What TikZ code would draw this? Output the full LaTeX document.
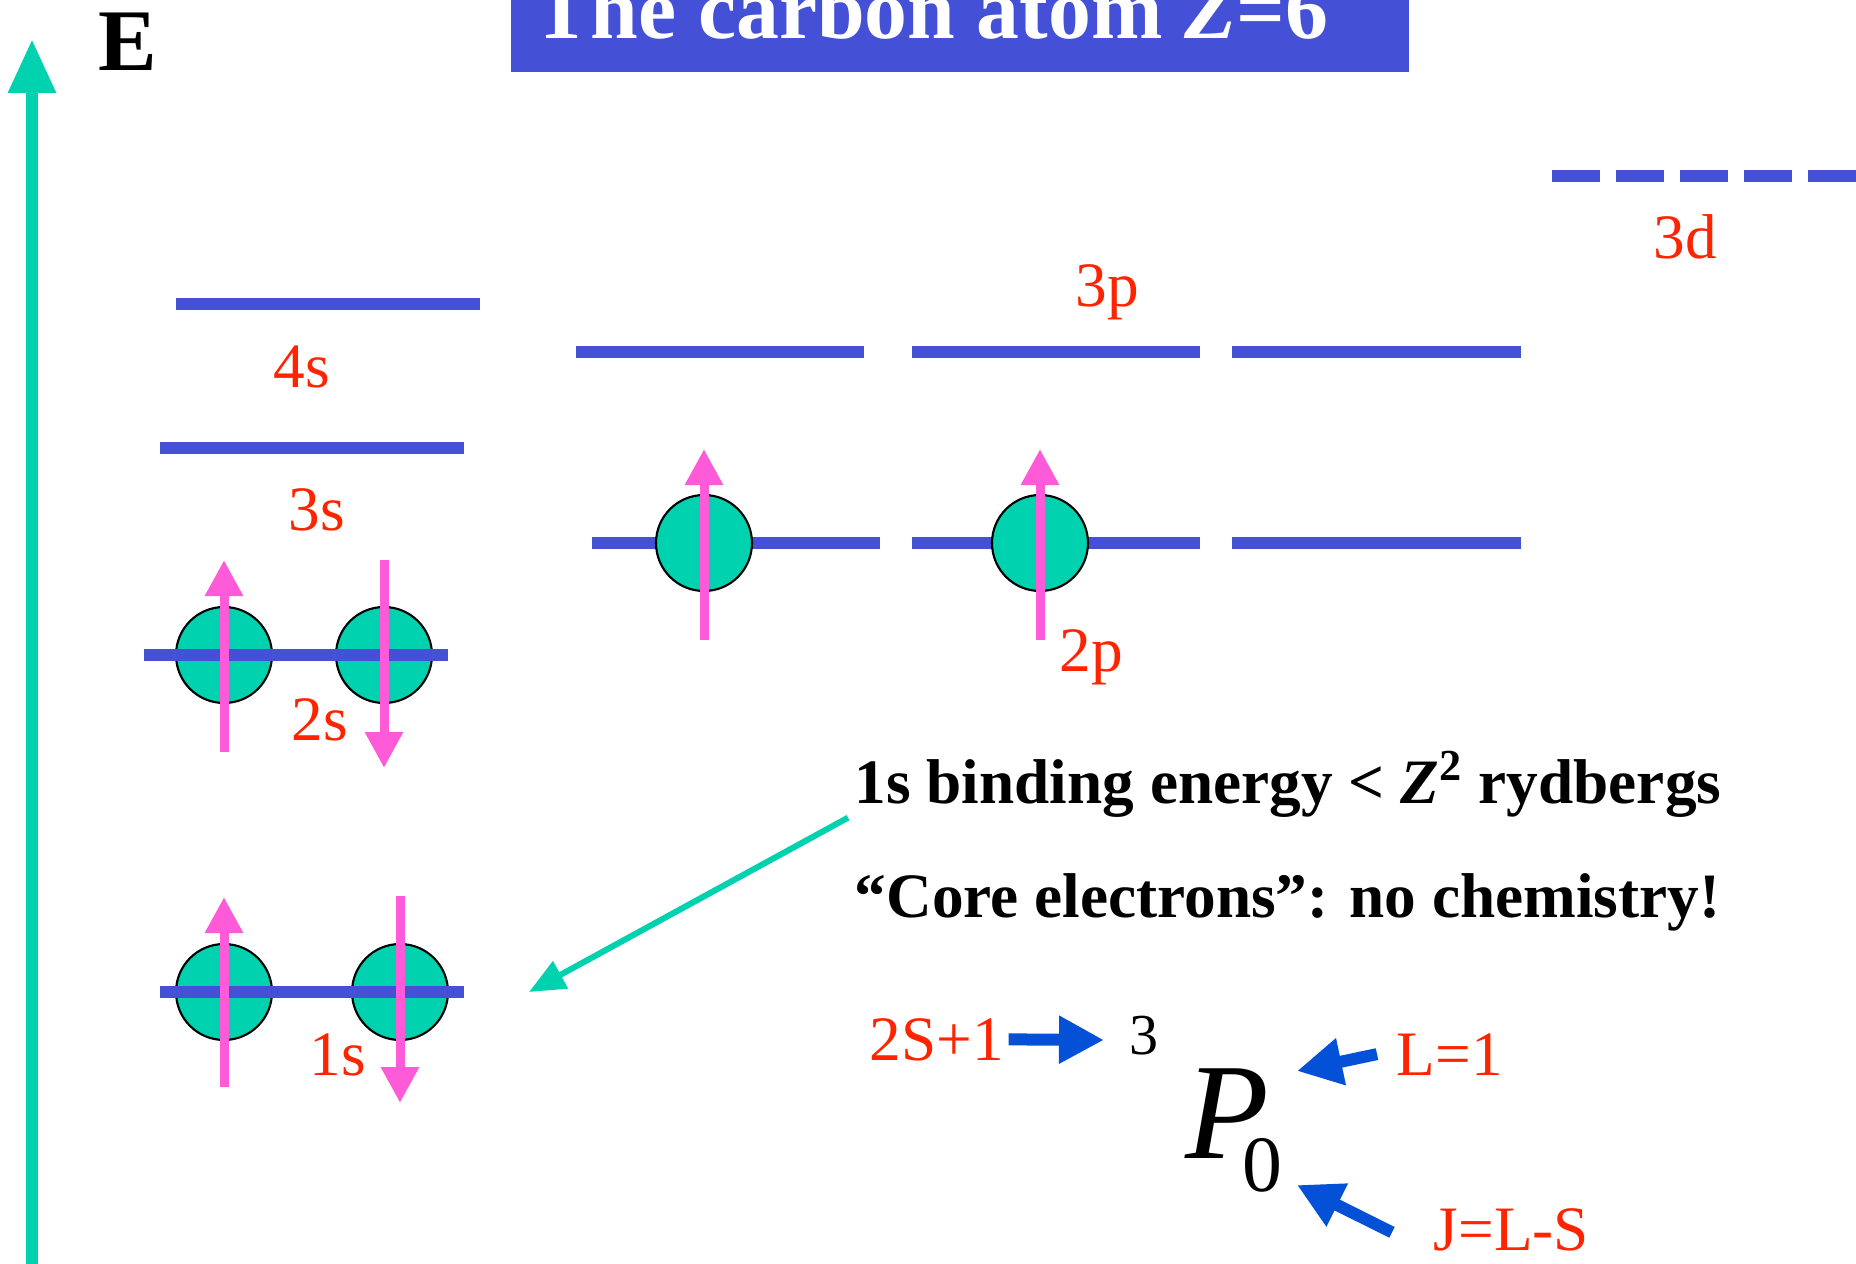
\documentclass[tikz,border=0pt]{standalone}
\usepackage{fontspec}
\setmainfont{Liberation Serif}
\usepackage{xcolor}
\usetikzlibrary{arrows.meta}

\definecolor{levelblue}{RGB}{68,80,214}
\definecolor{elteal}{RGB}{0,209,174}
\definecolor{spinpink}{RGB}{255,90,216}
\definecolor{labelred}{RGB}{255,36,0}
\definecolor{termblue}{RGB}{4,80,214}

\begin{document}
\begin{tikzpicture}[
    level/.style={levelblue, line width=0.12cm},
    electron/.style={fill=elteal, draw=black, line width=0.6pt},
    spin/.style={spinpink, line width=0.09cm, -{Triangle[length=0.36cm, width=0.36cm]}},
    orb/.style={labelred, font=\fontsize{18}{20}\selectfont, inner sep=0pt, anchor=base},
    remark/.style={font=\fontsize{18}{20}\selectfont\bfseries, inner sep=0pt, anchor=base west},
    term/.style={termblue, line width=0.12cm, -{Triangle[length=0.45cm, width=0.45cm]}},
    termtxt/.style={inner sep=0pt, anchor=base west},
]
    \useasboundingbox (0, 0) rectangle (18.56, 12.63);
    \clip (0, 0) rectangle (18.56, 12.63);

    % Energy axis
    \draw [elteal, line width=0.12cm, -{Triangle[length=0.54cm, width=0.45cm]}] (0.32, -0.1) -- (0.32, 12.24);
    \node (E) [font=\fontsize{25}{28}\selectfont\bfseries, inner sep=0pt, anchor=base west] at (0.98, 11.93) {E};

    % Title
    \fill [levelblue] (5.11, 11.91) rectangle (14.09, 13.0);
    \node (title) [white, font=\fontsize{24.4}{28}\selectfont\bfseries, inner sep=0pt, anchor=base west] at (5.33, 12.25) {The carbon atom \textit{Z}=6};

    % s levels
    \draw [level] (1.76, 9.59) -- (4.80, 9.59);
    \node (lab4s) [orb] at (3.02, 8.76) {4s};
    \draw [level] (1.60, 8.15) -- (4.64, 8.15);
    \node (lab3s) [orb] at (3.17, 7.33) {3s};

    % 2s
    \draw [electron] (2.24, 6.08) circle (0.48);
    \draw [electron] (3.84, 6.08) circle (0.48);
    \draw [level] (1.44, 6.08) -- (4.48, 6.08);
    \draw [spin] (2.24, 5.11) -- (2.24, 7.03);
    \draw [spin] (3.84, 7.03) -- (3.84, 4.95);
    \node (lab2s) [orb] at (3.195, 5.23) {2s};

    % 1s
    \draw [electron] (2.24, 2.71) circle (0.48);
    \draw [electron] (4.00, 2.71) circle (0.48);
    \draw [level] (1.60, 2.71) -- (4.64, 2.71);
    \draw [spin] (2.24, 1.76) -- (2.24, 3.66);
    \draw [spin] (4.00, 3.67) -- (4.00, 1.60);
    \node (lab1s) [orb] at (3.375, 1.88) {1s};

    % p levels
    \foreach \xa/\xb in {5.76/8.64, 9.12/12.00, 12.32/15.21}
        \draw [level] (\xa, 9.11) -- (\xb, 9.11);
    \node (lab3p) [orb] at (11.075, 9.57) {3p};
    \foreach \xa/\xb in {5.92/8.80, 9.12/12.00, 12.32/15.21}
        \draw [level] (\xa, 7.20) -- (\xb, 7.20);
    \foreach \x in {7.04, 10.40} {
        \draw [electron] (\x, 7.20) circle (0.48);
        \draw [spin] (\x, 6.23) -- (\x, 8.14);
    }
    \node (lab2p) [orb] at (10.91, 5.92) {2p};

    % 3d
    \draw [level, dash pattern=on 0.48cm off 0.16cm] (15.52, 10.87) -- (18.7, 10.87);
    \node (lab3d) [orb] at (16.855, 10.05) {3d};

    % Remarks
    \node (bind) [remark] at (8.54, 4.60) {1s binding energy < \textit{Z}\textsuperscript{2} rydbergs};
    \node (core) [remark] at (8.54, 3.46) {“Core electrons”: no chemistry!};
    \coordinate (coretip) at (5.29, 2.71);
    \draw [elteal, line width=0.06cm, -{Triangle[length=0.36cm, width=0.30cm]}] ([xshift=-0.6mm]bind.south west) -- (coretip);

    % Term symbol
    \node (mult) [termtxt, labelred, font=\fontsize{18}{20}\selectfont] at (8.69, 2.03) {2S+1};
    \node (sup3) [termtxt, font=\fontsize{16.5}{18}\selectfont] at (11.29, 2.09) {3};
    \node (termP) [termtxt, font=\fontsize{39}{44}\selectfont\itshape] at (11.85, 1.05) {P};
    \node (sub0) [termtxt, font=\fontsize{22.7}{26}\selectfont] at (12.42, 0.72) {0};
    \node (Lval) [termtxt, labelred, font=\fontsize{18}{20}\selectfont] at (13.96, 1.88) {L=1};
    \node (Jval) [termtxt, labelred, font=\fontsize{18}{20}\selectfont] at (14.33, 0.13) {J=L-S};
    \coordinate (multtip) at (11.04, 2.23);
    \coordinate (Ltip) at (12.97, 1.92);
    \coordinate (Jtip) at (12.97, 0.78);
    \draw [term] ([xshift=0.4mm]mult.east) -- (multtip);
    \draw [term] ([xshift=-1.9mm]Lval.west) -- (Ltip);
    \draw [term] ([xshift=-4.1mm, yshift=-0.3mm]Jval.west) -- (Jtip);
\end{tikzpicture}
\end{document}
